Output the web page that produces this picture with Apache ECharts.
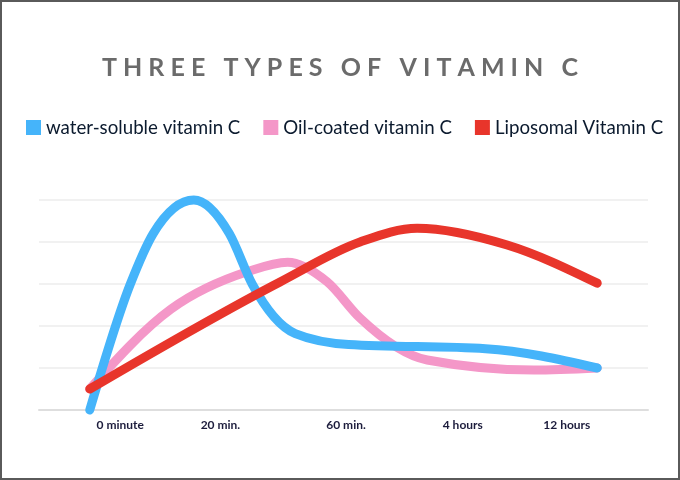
<!DOCTYPE html>
<html>
<head>
<meta charset="utf-8">
<script src="https://cdn.jsdelivr.net/npm/echarts@6/dist/echarts.min.js"></script>
<style>
html, body { margin: 0; padding: 0; background: #fff; }
#main { width: 680px; height: 480px; box-sizing: border-box; border: 2px solid #5a5a5a; }
</style>
</head>
<body>
<div id="main"></div>
<script>
// x is a position along the time axis (0 = first reading, 20 = last reading)
var tickPos = [1.2, 5.15, 10.1, 14.7, 18.8];
var tickLabels = ['0 minute', '20 min.', '60 min.', '4 hours', '12 hours'];

var waterSoluble = [
    [0, 0], [1.6, 3.0], [2.5, 4.2], [4.1, 5.0], [5.5, 4.2], [6.4, 3.0],
    [8.1, 1.82], [10.2, 1.56], [15.6, 1.46], [20, 1.0]
];
var oilCoated = [
    [0, 0.5], [3.2, 2.4], [6.2, 3.29], [7.8, 3.52], [9.36, 3.05], [10.65, 2.19],
    [13.3, 1.19], [17.5, 0.95], [20, 1.0]
];
var liposomal = [
    [0, 0.5], [7.5, 3.05], [10.65, 4.0], [12.9, 4.33], [16.45, 3.93], [20, 3.02]
];

var seriesNames = ['water-soluble vitamin C', 'Oil-coated vitamin C', 'Liposomal Vitamin C'];
var seriesColors = ['#45b4fa', '#f497c8', '#e8352b'];
var seriesData = [waterSoluble, oilCoated, liposomal];

var myChart = echarts.init(document.getElementById('main'));

// monotone cubic curve through the pixel points (same idea as d3.curveMonotoneX)
function sign(v) { return v < 0 ? -1 : 1; }

function curvePath(pts) {
    var n = pts.length, t = [], i;
    for (i = 1; i < n - 1; i++) {
        var h0 = pts[i][0] - pts[i - 1][0], h1 = pts[i + 1][0] - pts[i][0];
        var s0 = (pts[i][1] - pts[i - 1][1]) / h0, s1 = (pts[i + 1][1] - pts[i][1]) / h1;
        var p = (s0 * h1 + s1 * h0) / (h0 + h1);
        t[i] = (sign(s0) + sign(s1)) * Math.min(Math.abs(s0), Math.abs(s1), 0.5 * Math.abs(p)) || 0;
    }
    var sFirst = (pts[1][1] - pts[0][1]) / (pts[1][0] - pts[0][0]);
    var sLast = (pts[n - 1][1] - pts[n - 2][1]) / (pts[n - 1][0] - pts[n - 2][0]);
    t[0] = (3 * sFirst - t[1]) / 2;
    t[n - 1] = (3 * sLast - t[n - 2]) / 2;
    var d = 'M' + pts[0][0] + ' ' + pts[0][1];
    for (i = 0; i < n - 1; i++) {
        var dx = (pts[i + 1][0] - pts[i][0]) / 3;
        d += ' C' + (pts[i][0] + dx) + ' ' + (pts[i][1] + dx * t[i]) + ' '
            + (pts[i + 1][0] - dx) + ' ' + (pts[i + 1][1] - dx * t[i + 1]) + ' '
            + pts[i + 1][0] + ' ' + pts[i + 1][1];
    }
    return d;
}

function line(idx, z) {
    var color = seriesColors[idx];
    return {
        name: seriesNames[idx],
        type: 'custom',
        z: z,
        data: seriesData[idx],
        itemStyle: { color: color },
        renderItem: function (params, api) {
            if (params.dataIndex !== 0) return null;
            var pts = seriesData[idx].map(function (d) { return api.coord(d); });
            return {
                type: 'path',
                shape: { pathData: curvePath(pts) },
                style: { fill: 'none', stroke: color, lineWidth: 9, lineCap: 'round', lineJoin: 'round' }
            };
        }
    };
}

var option = {
    backgroundColor: '#fff',
    animation: false,
    title: {
        text: 'T H R E E   T Y P E S   O F   V I T A M I N   C',
        left: 'center',
        top: 48,
        textStyle: {
            fontFamily: 'Lato',
            fontSize: 25,
            fontWeight: 'bold',
            color: '#6b6b6b'
        }
    },
    legend: {
        data: seriesNames,
        left: 19,
        top: 111,
        icon: 'rect',
        itemWidth: 15,
        itemHeight: 15,
        itemGap: 23,
        textStyle: {
            fontFamily: 'Lato',
            fontSize: 18.7,
            color: '#0b1a2e'
        }
    },
    grid: {
        left: 37,
        right: 30,
        top: 198,
        bottom: 68
    },
    xAxis: {
        type: 'value',
        min: -2,
        max: 22,
        splitLine: { show: false },
        axisTick: { show: false },
        axisLine: { show: true, lineStyle: { color: '#dedede', width: 2 } },
        axisLabel: {
            customValues: tickPos,
            formatter: function (v) {
                var i = tickPos.indexOf(v);
                return i >= 0 ? tickLabels[i] : '';
            },
            fontFamily: 'Lato',
            fontSize: 12,
            fontWeight: 'bold',
            color: '#1c1c3c',
            margin: 9
        }
    },
    yAxis: {
        type: 'value',
        min: 0,
        max: 5,
        interval: 1,
        axisLabel: { show: false },
        axisLine: { show: false },
        axisTick: { show: false },
        splitLine: { lineStyle: { color: '#ededed', width: 1.5 } }
    },
    series: [line(0, 3), line(1, 2), line(2, 4)]
};

myChart.setOption(option);
</script>
</body>
</html>
